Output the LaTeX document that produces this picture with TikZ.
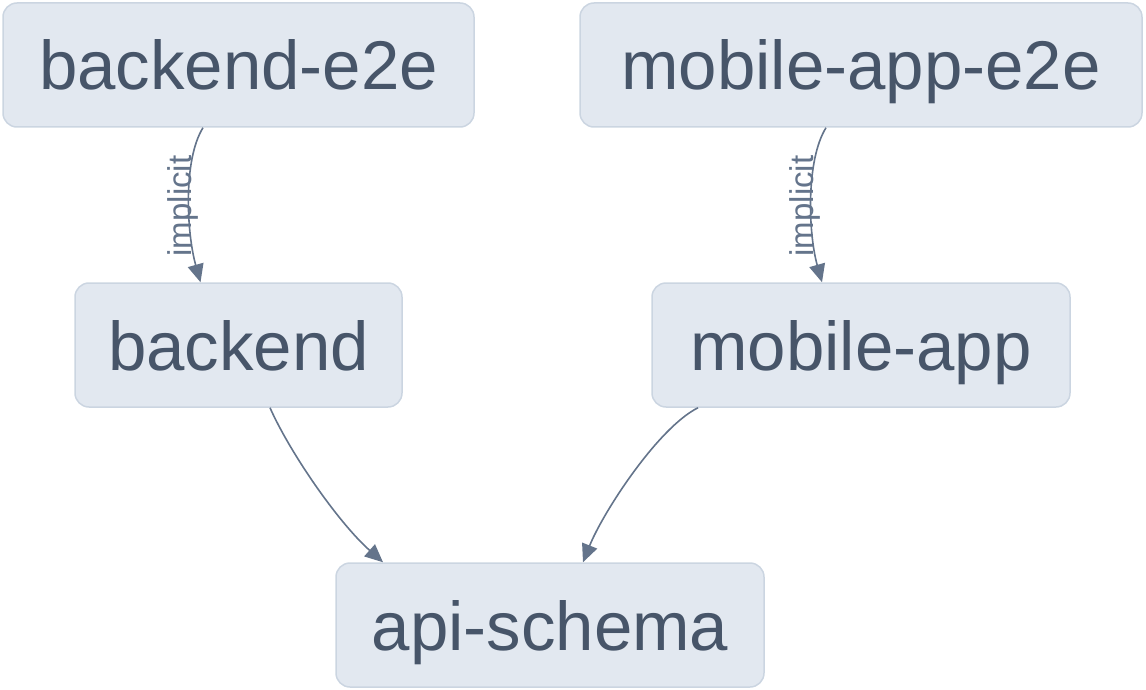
\documentclass[tikz,border=0pt]{standalone}
\usepackage{fontspec}
\setmainfont{Liberation Sans}
\usetikzlibrary{arrows.meta}
\definecolor{boxfill}{HTML}{E2E8F0}
\definecolor{boxline}{HTML}{CBD5E1}
\definecolor{boxtext}{HTML}{475569}
\definecolor{edgecol}{HTML}{64748B}
\tikzset{
  pkg/.style={draw=boxline, line width=1.5pt, fill=boxfill, rounded corners=14pt,
    inner sep=0pt, text=boxtext, font=\fontsize{69}{80}\selectfont,
    text height=50pt, text depth=0pt, minimum height=124pt},
  dep/.style={draw=edgecol, line width=1.6pt, -{Triangle[length=18pt,width=16pt]}},
  lbl/.style={text=edgecol, font=\fontsize{33}{38}\selectfont, rotate=90, inner sep=0pt}
}
\begin{document}
\begin{tikzpicture}[x=1pt,y=-1pt]
\useasboundingbox (0,0) rectangle (1146,690);
\node[pkg, minimum width=471pt] (be2e) at (238.5,65) {backend-e2e};
\node[pkg, minimum width=562pt] (me2e) at (861,65) {mobile-app-e2e};
\node[pkg, minimum width=327pt] (be) at (238.5,345) {backend};
\node[pkg, minimum width=418pt] (ma) at (861,345) {mobile-app};
\node[pkg, minimum width=428pt] (api) at (550,625) {api-schema};

\draw[dep] ([xshift=-35.5pt]be2e.south) .. controls +(-20,32) and +(-14,-50) .. ([xshift=-38pt]be.north);
\node[lbl] (l1) at (182.5,206) {implicit};
\draw[dep] ([xshift=-35pt]me2e.south) .. controls +(-20,32) and +(-14,-50) .. ([xshift=-39pt]ma.north);
\node[lbl] (l2) at (804.5,206) {implicit};

\draw[dep] ([xshift=31.5pt]be.south) .. controls +(20,45) and +(-45,-40) .. ([xshift=-167pt]api.north);
\draw[dep] ([xshift=-163pt]ma.south) .. controls +(-40,20) and +(20,-50) .. ([xshift=33pt]api.north);
\end{tikzpicture}
\end{document}
